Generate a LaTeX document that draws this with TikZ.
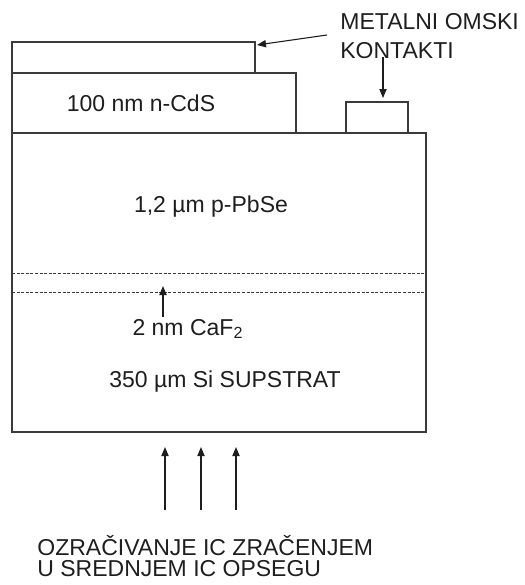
\documentclass[tikz,border=0pt]{standalone}
\usepackage{fontspec}
\setmainfont{Liberation Sans}
\usepackage{xcolor}
\usetikzlibrary{arrows.meta}
\definecolor{edgegray}{HTML}{3A3A3A}
\definecolor{textgray}{HTML}{1E1E1E}
\tikzset{
  layer/.style={draw=edgegray, line width=0.75pt},
  sublayer/.style={draw=edgegray, line width=1pt},
  thinlayer/.style={draw=edgegray, line width=0.5pt, dash pattern=on 1.5pt off 0.8pt},
  label/.style={text=textgray, inner sep=0pt, font=\fontsize{11.5}{14}\selectfont},
  note/.style={label, align=left, anchor=west},
  arrow/.style={-{Triangle[length=4.5pt,width=3.6pt]}, line width=0.55pt, draw=textgray}
}
\begin{document}
\begin{tikzpicture}[x=0.5pt, y=-0.5pt]
  \useasboundingbox (0,0) rectangle (525,585);
  \draw[layer] (12,42) rectangle (255,73);
  \draw[layer] (12,73) rectangle (296,133);
  \draw[layer] (346,102) rectangle (408,133);
  \draw[sublayer] (12,133) rectangle (426,432);
  \draw[thinlayer] (12,273) -- (426,273);
  \draw[thinlayer] (12,292) -- (426,292);

  \node[label] (cds) at (141,103) {100 nm n-CdS};
  \node[label] (pbse) at (211,207) {1,2 µm p-PbSe};
  \node[label] (caf) at (188,329) {2 nm CaF\textsubscript{2}};
  \node[label] (si) at (225,382) {350 µm Si SUPSTRAT};
  \node[note, font=\fontsize{11.5}{14.5}\selectfont] (contacts) at (340,36.5) {METALNI OMSKI\\KONTAKTI};
  \node[note, font=\fontsize{11.5}{10.5}\selectfont] (ir) at (37,556) {OZRAČIVANJE IC ZRAČENJEM\\U SREDNJEM IC OPSEGU};

  \coordinate (topc) at (257,45);
  \coordinate (sidec) at (383,98);
  \coordinate (cafline) at (163,286);
  \draw[arrow] (contacts.west |- 0,35) ++(-13,0) coordinate (m1) -- (topc);
  \draw[arrow] (383,57) coordinate (m2) -- (sidec);
  \draw[arrow] (163,317) coordinate (cafstart) -- (cafline);
  \foreach \x/\n in {165/1, 201/2, 236/3} {
    \coordinate (irs\n) at (\x,510);
    \coordinate (ire\n) at (\x,447);
    \draw[arrow] (irs\n) -- (ire\n);
  }
\end{tikzpicture}
\end{document}
